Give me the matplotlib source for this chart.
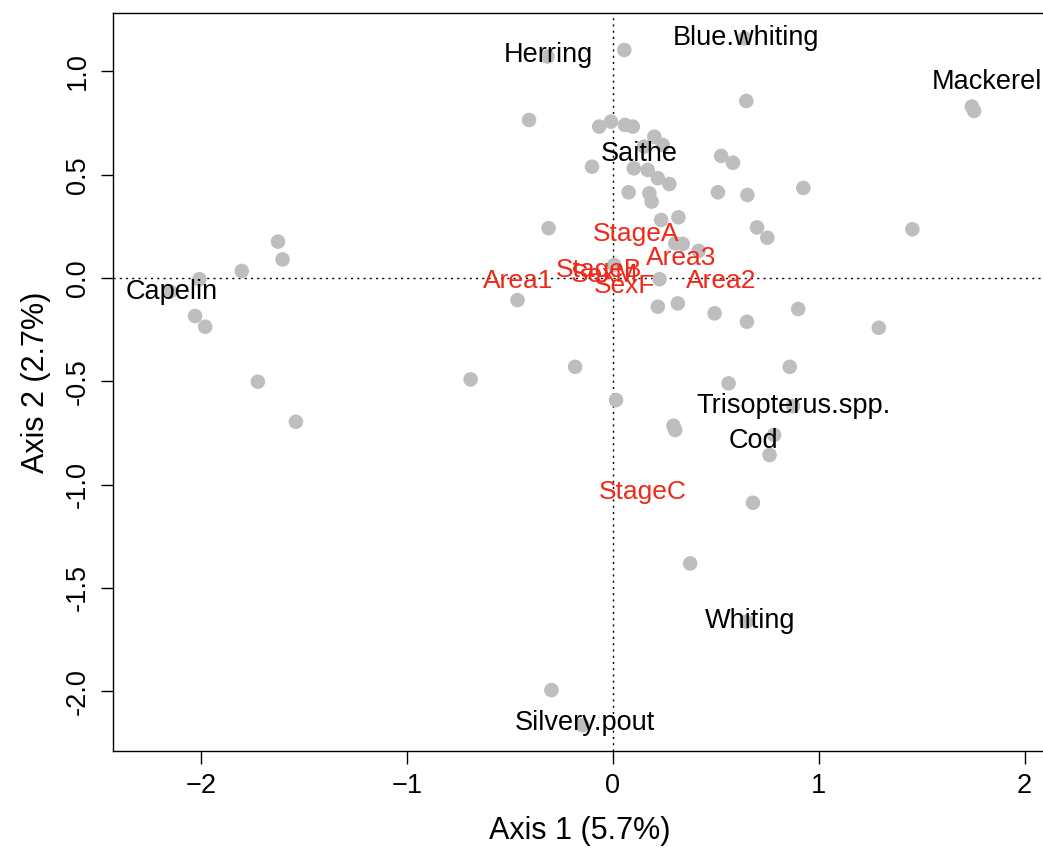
import matplotlib
matplotlib.use("Agg")
import matplotlib.pyplot as plt

plt.rcParams['font.family'] = ['Liberation Sans', 'DejaVu Sans']

# site scores (grey points)
site_x = [0.055, -0.318, -0.408, -0.067, -0.010, 0.058, 0.096, 0.201, 0.242, 0.152,
          -0.102, 0.101, 0.169, 0.218, 0.274, 0.076, 0.177, 0.188, 0.526, 0.583,
          0.510, 0.653, 0.925, 0.648, 1.744, 1.755, 0.234, 0.318, 0.700, 0.750,
          1.455, 0.303, 0.339, 0.416, 0.006, 0.226, 0.218, 0.315, 0.494, 0.651,
          0.900, 1.292, 0.859, -0.313, -0.464, 0.562, 0.875, 0.294, 0.302, 0.783,
          0.761, 0.680, -0.692, -0.184, 0.015, 0.375, -0.299, -0.148, 0.648, -1.628,
          -1.606, -1.804, -2.010, -2.153, -2.031, -1.982, -1.726, -1.541, 0.640]
site_y = [1.104, 1.072, 0.765, 0.733, 0.757, 0.741, 0.733, 0.684, 0.644, 0.636,
          0.539, 0.531, 0.523, 0.483, 0.455, 0.415, 0.410, 0.370, 0.591, 0.558,
          0.415, 0.402, 0.436, 0.857, 0.830, 0.809, 0.281, 0.294, 0.245, 0.195,
          0.236, 0.168, 0.165, 0.131, 0.063, -0.006, -0.139, -0.123, -0.171, -0.212,
          -0.150, -0.241, -0.430, 0.241, -0.107, -0.510, -0.620, -0.715, -0.736, -0.760,
          -0.857, -1.088, -0.491, -0.430, -0.591, -1.382, -1.995, -2.165, -1.664, 0.176,
          0.090, 0.034, -0.006, -0.066, -0.184, -0.236, -0.502, -0.696, 1.160]

# species scores (black labels)
species = ["Herring", "Blue.whiting", "Mackerel", "Saithe", "Capelin",
           "Trisopterus.spp.", "Cod", "Whiting", "Silvery.pout"]
species_x = [-0.312, 0.648, 1.817, 0.127, -2.143, 0.877, 0.682, 0.667, -0.137]
species_y = [1.080, 1.162, 0.949, 0.600, -0.068, -0.620, -0.789, -1.661, -2.155]

# factor centroids (red labels)
factors = ["StageA", "Area3", "Area2", "Area1", "StageB", "SexM", "SexF", "StageC"]
factor_x = [0.112, 0.331, 0.526, -0.463, -0.068, -0.039, 0.054, 0.146]
factor_y = [0.213, 0.097, -0.015, -0.015, 0.039, 0.015, -0.040, -1.036]

fig = plt.figure(figsize=(10.43, 8.49), dpi=100)
ax = fig.add_axes([0.1083, 0.1154, 0.8947, 0.8693])

ax.axhline(0, color='black', linestyle=(0, (1.5, 3)), linewidth=1.0, zorder=1)
ax.axvline(0, color='black', linestyle=(0, (1.5, 3)), linewidth=1.0, zorder=1)

ax.scatter(site_x, site_y, s=110, color='#BEBEBE', edgecolors='none', zorder=2)

for name, x, y in zip(species, species_x, species_y):
    ax.text(x, y, name, ha='center', va='center', fontsize=19.5, color='black', zorder=3)

for name, x, y in zip(factors, factor_x, factor_y):
    ax.text(x, y, name, ha='center', va='center', fontsize=19, color='#F0281A', zorder=3)

ax.set_xlim(-2.43, 2.105)
ax.set_ylim(-2.29, 1.283)
ax.set_xticks([-2, -1, 0, 1, 2])
ax.set_yticks([-2.0, -1.5, -1.0, -0.5, 0.0, 0.5, 1.0])
ax.set_yticklabels(["-2.0", "-1.5", "-1.0", "-0.5", "0.0", "0.5", "1.0"],
                   rotation=90, va='center')
ax.tick_params(axis='both', labelsize=19.5, length=9, width=1.0, pad=7)
ax.spines['right'].set_visible(False)
for s in ['left', 'bottom', 'top']:
    ax.spines[s].set_linewidth(1.0)

ax.set_xlabel("Axis 1 (5.7%)", fontsize=22, labelpad=12)
ax.set_ylabel("Axis 2 (2.7%)", fontsize=22, labelpad=10)

fig.savefig("out.png", dpi=100)
